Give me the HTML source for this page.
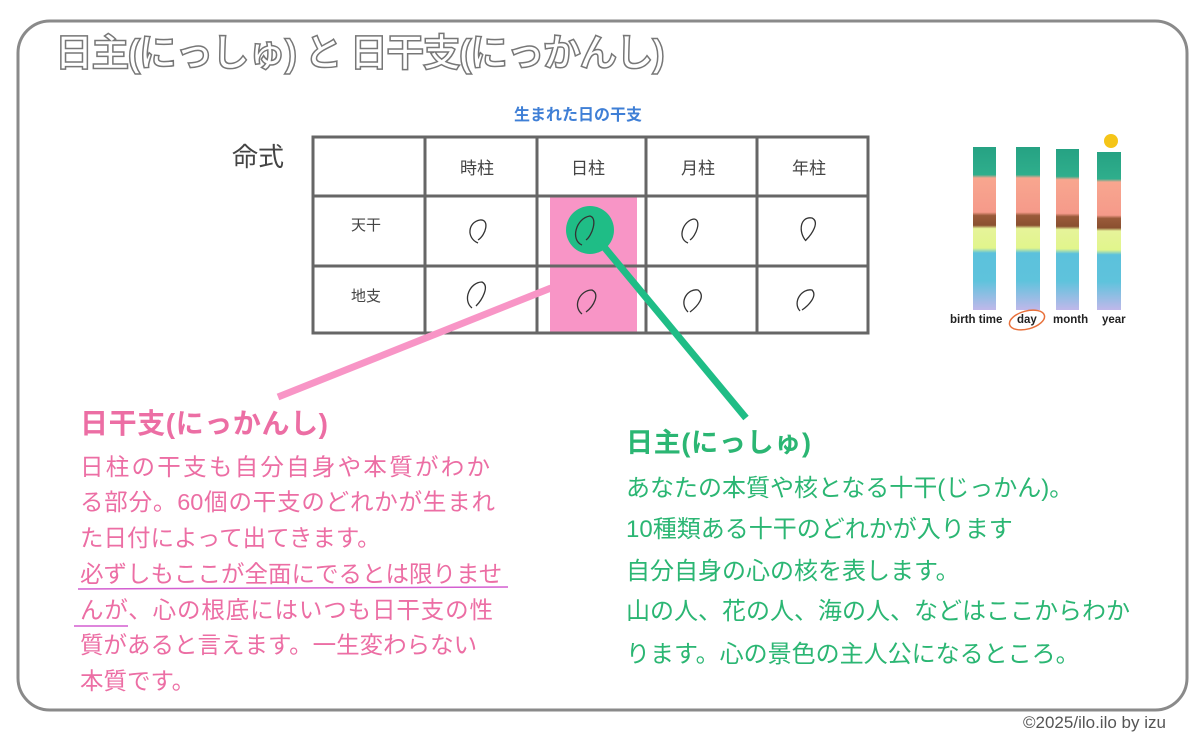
<!DOCTYPE html>
<html><head><meta charset="utf-8"><style>
body{margin:0;width:1200px;height:739px;background:#fff;position:relative;overflow:hidden;font-family:"Liberation Sans","Noto Sans CJK JP",sans-serif}
.a{position:absolute;white-space:nowrap;line-height:1}
.j{text-align:justify;text-align-last:justify;text-justify:inter-character}
.title{left:55px;top:35px;font-size:38px;font-weight:bold;color:#fff;-webkit-text-stroke:1.5px #777;letter-spacing:-1.6px}
.pk{color:#ec6ea4;font-size:23.5px}
.gr{color:#2bb673;font-size:24px}
</style></head><body>
<svg width="1200" height="739" style="position:absolute;left:0;top:0">
<rect x="18" y="21" width="1169" height="689" rx="32" fill="none" stroke="#8a8a8a" stroke-width="3"/>
<rect x="550" y="195" width="87" height="137" fill="#f895c6"/>
<g stroke="#666" stroke-width="3" fill="none">
<rect x="313" y="137" width="555" height="196"/>
<line x1="313" y1="196" x2="868" y2="196"/><line x1="313" y1="266" x2="868" y2="266"/>
<line x1="425" y1="137" x2="425" y2="333"/><line x1="537" y1="137" x2="537" y2="333"/>
<line x1="646" y1="137" x2="646" y2="333"/><line x1="757" y1="137" x2="757" y2="333"/>
</g>
<circle cx="590" cy="230" r="24" fill="#1fbd86"/>
<line x1="590" y1="230" x2="746" y2="418" stroke="#1fbd86" stroke-width="7"/>
<line x1="551" y1="288" x2="278" y2="397" stroke="#f895c6" stroke-width="7"/>
<g stroke="#333" stroke-width="1.3" fill="none">
<path d="M478 243 C466 238 468 222 480 220 C490 219 486 235 478 240"/>
<path d="M582 245 C570 240 576 218 590 216 C598 218 592 236 586 240"/>
<path d="M688 243 C676 238 684 220 694 219 C702 220 696 236 690 240"/>
<path d="M806 241 C798 232 800 216 812 218 C820 222 812 234 806 240"/>
<path d="M472 308 C462 300 470 282 482 282 C490 286 482 300 476 306"/>
<path d="M582 314 C572 306 580 290 592 290 C600 294 594 306 586 312"/>
<path d="M688 312 C678 302 688 288 698 290 C706 296 698 306 690 312"/>
<path d="M800 311 C792 302 802 288 812 290 C818 296 808 306 802 310"/>
</g>
<line x1="78" y1="589" x2="508" y2="587" stroke="#d35fd0" stroke-width="1.5"/>
<line x1="74" y1="626" x2="128" y2="626" stroke="#d35fd0" stroke-width="1.5"/>
<defs>
<linearGradient id="s" x1="0" y1="0" x2="0" y2="1">
<stop offset="0" stop-color="#26a283"/><stop offset=".17" stop-color="#2fae8c"/>
<stop offset=".19" stop-color="#f8a68f"/><stop offset=".4" stop-color="#f59a8a"/>
<stop offset=".42" stop-color="#9a5a3a"/><stop offset=".48" stop-color="#8a5030"/>
<stop offset=".5" stop-color="#e6f49a"/><stop offset=".62" stop-color="#e1f58c"/>
<stop offset=".65" stop-color="#5cc1dc"/><stop offset=".82" stop-color="#5ec3dc"/>
<stop offset="1" stop-color="#c0b8ea"/></linearGradient>
</defs>
<rect x="973" y="147" width="23" height="163" fill="url(#s)"/>
<rect x="1016" y="147" width="24" height="163" fill="url(#s)"/>
<rect x="1056" y="149" width="23" height="161" fill="url(#s)"/>
<rect x="1097" y="152" width="24" height="158" fill="url(#s)"/>
<circle cx="1111" cy="141" r="7" fill="#f5c518"/>
<ellipse cx="1027" cy="320" rx="18" ry="9" transform="rotate(-15 1027 320)" fill="none" stroke="#e8703a" stroke-width="1.5"/>
</svg>
<div class="a title">日主(にっしゅ) と 日干支(にっかんし)</div>
<div class="a" style="left:514px;top:108px;font-size:16px;font-weight:bold;color:#3f7fd6">生まれた日の干支</div>
<div class="a" style="left:232px;top:144px;font-size:26px;color:#444">命式</div>
<div class="a" style="left:460px;top:160px;font-size:17px;color:#444">時柱</div>
<div class="a" style="left:571px;top:160px;font-size:17px;color:#444">日柱</div>
<div class="a" style="left:681px;top:160px;font-size:17px;color:#444">月柱</div>
<div class="a" style="left:792px;top:160px;font-size:17px;color:#444">年柱</div>
<div class="a" style="left:351px;top:218px;font-size:15px;color:#444">天干</div>
<div class="a" style="left:351px;top:289px;font-size:15px;color:#444">地支</div>
<div class="a" style="left:950px;top:315px;font-size:11.5px;font-weight:bold;color:#222">birth time</div>
<div class="a" style="left:1017px;top:315px;font-size:11.5px;font-weight:bold;color:#222">day</div>
<div class="a" style="left:1053px;top:315px;font-size:11.5px;font-weight:bold;color:#222">month</div>
<div class="a" style="left:1102px;top:315px;font-size:11.5px;font-weight:bold;color:#222">year</div>
<div class="a pk j" style="left:80px;top:410px;width:248px;font-size:28px;font-weight:bold">日干支(にっかんし)</div>
<div class="a pk j" style="left:80px;top:456px;width:410px">日柱の干支も自分自身や本質がわか</div>
<div class="a pk j" style="left:80px;top:491px;width:415px">る部分。60個の干支のどれかが生まれ</div>
<div class="a pk j" style="left:80px;top:527px;width:286px">た日付によって出てきます。</div>
<div class="a pk j" style="left:80px;top:563px;width:417px">必ずしもここが全面にでるとは限りませ</div>
<div class="a pk j" style="left:80px;top:599px;width:413px">んが、心の根底にはいつも日干支の性</div>
<div class="a pk j" style="left:80px;top:634px;width:393px">質があると言えます。一生変わらない</div>
<div class="a pk j" style="left:80px;top:670px;width:110px">本質です。</div>
<div class="a gr j" style="left:626px;top:430px;width:185px;font-size:27px;font-weight:bold">日主(にっしゅ)</div>
<div class="a gr" style="left:626px;top:477px">あなたの本質や核となる十干(じっかん)。</div>
<div class="a gr" style="left:626px;top:518px">10種類ある十干のどれかが入ります</div>
<div class="a gr" style="left:626px;top:560px">自分自身の心の核を表します。</div>
<div class="a gr" style="left:626px;top:600px">山の人、花の人、海の人、などはここからわか</div>
<div class="a gr" style="left:626px;top:643px">ります。心の景色の主人公になるところ。</div>
<div class="a" style="left:1023px;top:714px;font-size:17px;color:#555">©2025/ilo.ilo by izu</div>
</body></html>
